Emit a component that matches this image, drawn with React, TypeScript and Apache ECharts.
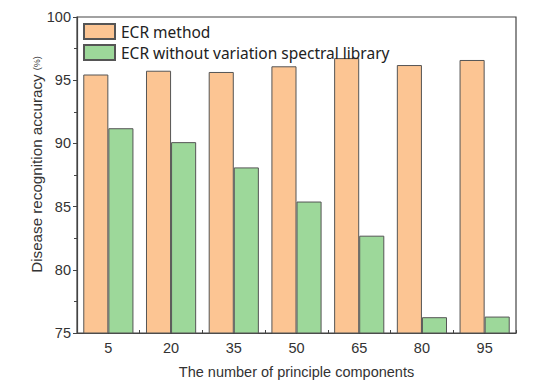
import React, { useEffect, useRef } from "react";
import * as echarts from "echarts";

const categories = ["5", "20", "35", "50", "65", "80", "95"];
const ecrMethod = [95.45, 95.75, 95.65, 96.1, 96.75, 96.2, 96.6];
const ecrWithout = [91.2, 90.1, 88.1, 85.4, 82.7, 76.25, 76.3];
const seriesNames = ["ECR method", "ECR without variation spectral library"];

export default function App() {
  const ref = useRef<HTMLDivElement>(null);
  useEffect(() => {
    if (!ref.current) return;
    const chart = echarts.init(ref.current, null, { renderer: "svg" });
    const axisFont = { fontFamily: "Liberation Sans, Arial, sans-serif", fontSize: 14.5, color: "#333" };
    chart.setOption({
      animation: false,
      backgroundColor: "#fff",
      grid: {
        left: 77,
        right: 34,
        top: 17,
        bottom: 58,
        show: true,
        borderColor: "#444",
        borderWidth: 1.2,
      },
      legend: {
        orient: "vertical",
        left: 83,
        top: 23,
        padding: 0,
        itemWidth: 31,
        itemHeight: 15,
        itemGap: 4,
        icon: "rect",
        textStyle: { fontFamily: "Noto Sans, sans-serif", fontSize: 15.5, color: "#222", padding: [0, 0, 0, 1] },
        data: seriesNames,
      },
      xAxis: {
        type: "category",
        data: categories,
        name: "The number of principle components",
        nameLocation: "middle",
        nameGap: 31,
        nameMoveOverlap: false,
        nameTextStyle: { ...axisFont, fontSize: 14.5 },
        axisLine: { lineStyle: { color: "#444", width: 1.2 } },
        axisTick: { show: true, inside: true, length: 3, lineStyle: { color: "#444" } },
        axisLabel: { ...axisFont, margin: 7 },
      },
      yAxis: {
        type: "value",
        min: 75,
        max: 100,
        interval: 5,
        name: "{a|Disease recognition accuracy }{b|(%)}",
        nameLocation: "middle",
        nameRotate: 90,
        nameGap: 33,
        nameMoveOverlap: false,
        nameTextStyle: {
          padding: [0, 0, 0, 21],
          rich: {
            a: { fontFamily: "Liberation Sans, Arial, sans-serif", fontSize: 15.2, color: "#333" },
            b: { fontFamily: "Liberation Sans, Arial, sans-serif", fontSize: 9, color: "#333" },
          },
        },
        axisLine: { show: true, lineStyle: { color: "#444", width: 1.2 } },
        axisTick: { show: true, inside: false, length: 4, lineStyle: { color: "#444" } },
        minorTick: { show: true, splitNumber: 2, length: 3, lineStyle: { color: "#444" } },
        splitLine: { show: false },
        axisLabel: { ...axisFont, margin: 6 },
      },
      series: [
        {
          name: seriesNames[0],
          type: "bar",
          data: ecrMethod,
          barGap: "0%",
          barCategoryGap: "20%",
          itemStyle: { color: "#FCC593", borderColor: "#555", borderWidth: 1 },
        },
        {
          name: seriesNames[1],
          type: "bar",
          data: ecrWithout,
          barGap: "0%",
          barCategoryGap: "20%",
          itemStyle: { color: "#9DD89A", borderColor: "#555", borderWidth: 1 },
        },
      ],
    });
    return () => chart.dispose();
  }, []);
  return <div ref={ref} style={{ width: 550, height: 391, position: "absolute", left: 0, top: 0 }} />;
}
